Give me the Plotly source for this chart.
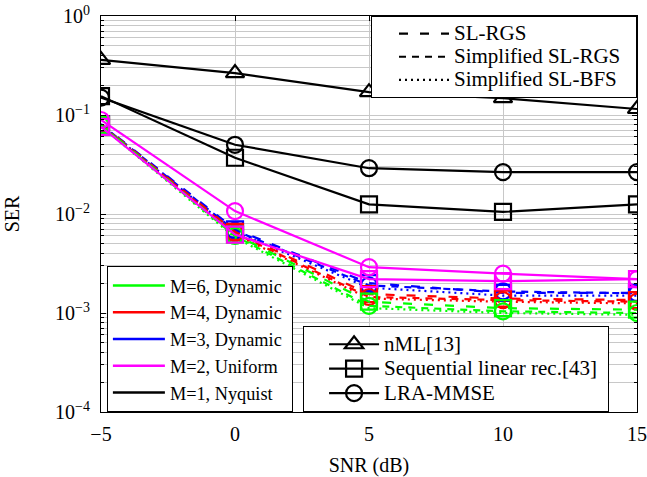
import plotly.graph_objects as go

snr = [-5, 0, 5, 10, 15]

# Black reference curves (M=1, Nyquist)
nml = [0.36, 0.265, 0.17, 0.148, 0.115]
seq_lin = [0.155, 0.037, 0.0125, 0.0105, 0.0125]
lra_mmse = [0.15, 0.05, 0.029, 0.0265, 0.0265]

# Magenta (M=2, Uniform)
m2_circ = [0.089, 0.0107, 0.0029, 0.0025, 0.0022]
m2_sq = [0.076, 0.0062, 0.0022, 0.0021, 0.0022]

# Blue (M=3, Dynamic): SL-RGS / Simplified SL-RGS / Simplified SL-BFS
m3_rgs = [0.081, 0.0070, 0.0020, 0.0016, 0.0016]
m3_srgs = [0.080, 0.0068, 0.0019, 0.00165, 0.00158]
m3_sbfs = [0.079, 0.0066, 0.0018, 0.0015, 0.0015]

# Red (M=4, Dynamic)
m4_rgs = [0.080, 0.0066, 0.00155, 0.0014, 0.00135]
m4_srgs = [0.079, 0.0064, 0.00145, 0.00135, 0.0013]
m4_sbfs = [0.078, 0.0062, 0.0014, 0.0013, 0.00125]

# Green (M=6, Dynamic)
m6_rgs = [0.079, 0.0062, 0.0013, 0.00112, 0.00108]
m6_srgs = [0.078, 0.0060, 0.00118, 0.00104, 0.00100]
m6_sbfs = [0.077, 0.0058, 0.00112, 0.00100, 0.00096]

y_ticks = [1e-4, 1e-3, 1e-2, 1e-1, 1]
y_ticktext = ["10<sup>−4</sup>", "10<sup>−3</sup>", "10<sup>−2</sup>", "10<sup>−1</sup>", "10<sup>0</sup>"]
x_ticks = [-5, 0, 5, 10, 15]
x_ticktext = ["−5", "0", "5", "10", "15"]
minor_vals = [m * 10.0 ** e for e in range(-4, 0) for m in range(2, 10)]

color_names = ["M=6, Dynamic", "M=4, Dynamic", "M=3, Dynamic", "M=2, Uniform", "M=1, Nyquist"]
method_names = ["nML[13]", "Sequential linear rec.[43]", "LRA-MMSE"]
style_names = ["SL-RGS", "Simplified SL-RGS", "Simplified SL-BFS"]

GREEN = "#00ff00"
RED = "#ff0000"
BLUE = "#0000ff"
MAG = "#ff00ff"
BLK = "#000000"

DASH_RGS = "9px,12px"
DASH_SRGS = "7px,6px"
DASH_SBFS = "2px,4px"

NB = "\u00a0"

def big(text, px, pad):
    return f"<span style='font-size:{px}px'>{text}{NB * pad}</span>"

fig = go.Figure()

def curve(y, color, dash, symbol):
    fig.add_trace(go.Scatter(
        x=snr, y=y, mode="lines+markers" if symbol else "lines",
        line=dict(color=color, width=2.2, dash=dash),
        marker=dict(symbol=symbol or "circle", size=16, color=color,
                    line=dict(color=color, width=2.2)),
        showlegend=False))

for color, rgs, srgs, sbfs in [(BLUE, m3_rgs, m3_srgs, m3_sbfs),
                               (RED, m4_rgs, m4_srgs, m4_sbfs),
                               (GREEN, m6_rgs, m6_srgs, m6_sbfs)]:
    curve(rgs, color, DASH_RGS, "square-open")
    curve(srgs, color, DASH_SRGS, "circle-open")
    curve(sbfs, color, DASH_SBFS, None)

curve(m2_sq, MAG, "solid", "square-open")
curve(m2_circ, MAG, "solid", "circle-open")

# Black curves, shown in legend2
for y, sym, name in zip([nml, seq_lin, lra_mmse],
                        ["triangle-up-open", "square-open", "circle-open"], method_names):
    fig.add_trace(go.Scatter(
        x=snr, y=y, mode="lines+markers", name=big(name, 21, 1),
        line=dict(color=BLK, width=2.2),
        marker=dict(symbol=sym, size=16, color=BLK, line=dict(color=BLK, width=2.2)),
        legend="legend2", legendgroup=name))

# Legend 1 entries (colors)
for color, name in zip([GREEN, RED, BLUE, MAG, BLK], color_names):
    fig.add_trace(go.Scatter(x=[None], y=[None], mode="lines", name=name + NB,
                             line=dict(color=color, width=2.5),
                             legend="legend", legendgroup=name))

# Legend 3 entries (line styles)
for dash, name in zip([DASH_RGS, DASH_SRGS, DASH_SBFS], style_names):
    fig.add_trace(go.Scatter(x=[None], y=[None], mode="lines", name=big(name, 21, 2),
                             line=dict(color=BLK, width=2.2, dash=dash),
                             legend="legend3", legendgroup=name))

FONT = "Liberation Serif, Times New Roman, DejaVu Serif, serif"
legend_common = dict(bgcolor="white", bordercolor="black", borderwidth=1, itemclick=False)

fig.update_layout(
    width=647, height=477,
    margin=dict(l=101, r=10, t=16, b=65, autoexpand=False),
    paper_bgcolor="white", plot_bgcolor="white",
    font=dict(family=FONT, size=18, color="black"),
    legend=dict(x=0.011, y=0.0, xanchor="left", yanchor="bottom", itemwidth=52,
                font=dict(family=FONT, size=18.3), tracegroupgap=0, **legend_common),
    legend2=dict(x=0.377, y=0.0, xanchor="left", yanchor="bottom", itemwidth=50,
                 indentation=20,
                 font=dict(family=FONT, size=16.5), tracegroupgap=0, **legend_common),
    legend3=dict(x=1.0, y=1.0, xanchor="right", yanchor="top", itemwidth=50,
                 indentation=22,
                 font=dict(family=FONT, size=15.5), tracegroupgap=0, **legend_common),
    xaxis=dict(range=[-5, 15], tickvals=x_ticks, ticktext=x_ticktext,
               tickfont=dict(family=FONT, size=20), ticklabeloverflow="allow",
               ticklabelstandoff=4,
               title=dict(text="SNR (dB)", font=dict(family=FONT, size=20), standoff=18),
               automargin=False,
               showgrid=True, gridcolor="#c8c8c8", gridwidth=1,
               showline=True, linecolor="black", linewidth=1, mirror="allticks",
               ticks="inside", ticklen=5, tickcolor="black", zeroline=False),
    yaxis=dict(type="log", range=[-4, 0], tickvals=y_ticks, ticktext=y_ticktext,
               tickfont=dict(family=FONT, size=20), ticklabelstandoff=6,
               title=dict(text="SER", font=dict(family=FONT, size=20), standoff=30),
               automargin=False,
               showgrid=True, gridcolor="#c8c8c8", gridwidth=1,
               showline=True, linecolor="black", linewidth=1, mirror="allticks",
               ticks="inside", ticklen=5, tickcolor="black", zeroline=False,
               minor=dict(tickvals=minor_vals, showgrid=True, gridcolor="#c8c8c8",
                          gridwidth=1, ticks="inside", ticklen=3, tickcolor="black")),
)

fig.write_html("out.html", config={"displayModeBar": False},
               post_script="document.body.style.margin='0px';document.body.style.overflow='hidden';")
